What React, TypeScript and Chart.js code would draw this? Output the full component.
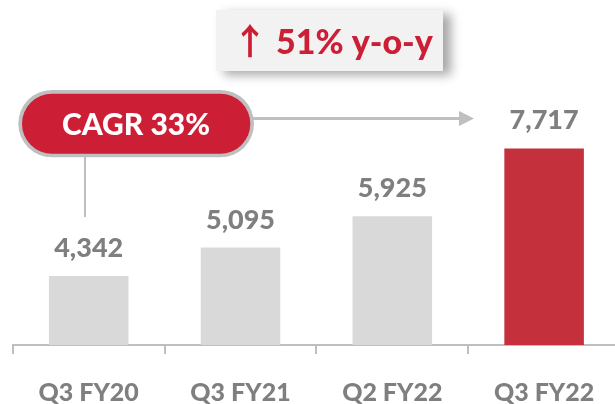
import React, { useEffect, useRef } from "react";
import { Chart, registerables } from "chart.js";

Chart.register(...registerables);

const categories = ["Q3 FY20", "Q3 FY21", "Q2 FY22", "Q3 FY22"];
const revenue = [4342, 5095, 5925, 7717];
const barColors = ["#d9d9d9", "#d9d9d9", "#d9d9d9", "#c5303d"];
const yoyArrow = "↑";
const yoyText = "51% y-o-y";
const cagrText = "CAGR 33%";

const GRAY_TEXT = "#7f7f7f";
const LINE_GRAY = "#bfbfbf";
const RED = "#cc1f36";
const WEIGHT = "900";

export default function App() {
  const ref = useRef<HTMLCanvasElement>(null);

  useEffect(() => {
    document.body.style.margin = "0";
    const annot = {
      id: "annot",
      afterDatasetsDraw(chart: any) {
        const ctx = chart.ctx as CanvasRenderingContext2D;
        const meta = chart.getDatasetMeta(0);
        // value labels
        ctx.save();
        ctx.fillStyle = GRAY_TEXT;
        ctx.font = `${WEIGHT} 27px Lato`;
        ctx.textAlign = "center";
        ctx.textBaseline = "alphabetic";
        meta.data.forEach((el: any, i: number) => {
          ctx.fillText(revenue[i].toLocaleString("en-US"), el.x, el.y - 19);
        });
        ctx.restore();

        // y-o-y box
        ctx.save();
        ctx.shadowColor = "rgba(0,0,0,0.35)";
        ctx.shadowBlur = 10;
        ctx.shadowOffsetX = 8;
        ctx.shadowOffsetY = 4;
        ctx.fillStyle = "#f2f2f2";
        ctx.fillRect(216, 10, 227, 61);
        ctx.restore();
        ctx.save();
        ctx.fillStyle = RED;
        ctx.textBaseline = "alphabetic";
        ctx.textAlign = "center";
        ctx.font = "bold 36px 'Noto Sans CJK SC'";
        ctx.fillText(yoyArrow, 250, 55);
        ctx.textAlign = "left";
        ctx.font = `${WEIGHT} 34px Lato`;
        ctx.fillText(yoyText, 276, 53.5);
        ctx.restore();

        // connector lines
        ctx.save();
        ctx.strokeStyle = LINE_GRAY;
        ctx.lineWidth = 2;
        ctx.beginPath();
        ctx.moveTo(85, 150);
        ctx.lineTo(85, 217);
        ctx.stroke();
        ctx.lineWidth = 3;
        ctx.beginPath();
        ctx.moveTo(240, 118.5);
        ctx.lineTo(461, 118.5);
        ctx.stroke();
        ctx.fillStyle = LINE_GRAY;
        ctx.beginPath();
        ctx.moveTo(459, 111);
        ctx.lineTo(474, 118.5);
        ctx.lineTo(459, 126);
        ctx.closePath();
        ctx.fill();
        ctx.restore();

        // CAGR pill
        ctx.save();
        ctx.fillStyle = LINE_GRAY;
        ctx.beginPath();
        ctx.roundRect(18.3, 90, 235.7, 67.3, 33.6);
        ctx.fill();
        ctx.fillStyle = RED;
        ctx.beginPath();
        ctx.roundRect(22, 93.7, 228.3, 60, 30);
        ctx.fill();
        ctx.fillStyle = "#ffffff";
        ctx.font = `${WEIGHT} 30px Lato`;
        ctx.textAlign = "center";
        ctx.textBaseline = "alphabetic";
        ctx.fillText(cagrText, 136, 134.5);
        ctx.restore();
      },
    };

    const chart = new Chart(ref.current as HTMLCanvasElement, {
      type: "bar",
      data: {
        labels: categories,
        datasets: [
          {
            data: revenue,
            backgroundColor: barColors,
            borderWidth: 0,
            barPercentage: 0.524,
            categoryPercentage: 1,
          },
        ],
      },
      options: {
        animation: false,
        responsive: true,
        maintainAspectRatio: false,
        layout: { padding: { left: 12.8, right: 2, top: 62, bottom: 0 } },
        plugins: { legend: { display: false }, tooltip: { enabled: false } },
        scales: {
          y: { display: false, min: 2520, max: 10000 },
          x: {
            afterFit: (scale: any) => {
              scale.height = 59;
            },
            grid: {
              display: true,
              offset: true,
              drawOnChartArea: false,
              drawTicks: true,
              tickLength: 9,
              color: LINE_GRAY,
              lineWidth: 2,
            },
            border: { display: true, color: LINE_GRAY, width: 2 },
            ticks: {
              color: GRAY_TEXT,
              font: { family: "Lato", weight: WEIGHT, size: 25 },
              padding: 24,
              maxRotation: 0,
              autoSkip: false,
            },
          },
        },
      },
      plugins: [annot],
    });
    return () => chart.destroy();
  }, []);

  return (
    <div
      style={{
        position: "fixed",
        left: 0,
        top: 0,
        width: 615,
        height: 404,
        overflow: "hidden",
        background: "#ffffff",
      }}
    >
      <div style={{ position: "relative", width: 622, height: 404 }}>
        <canvas ref={ref} />
      </div>
    </div>
  );
}
